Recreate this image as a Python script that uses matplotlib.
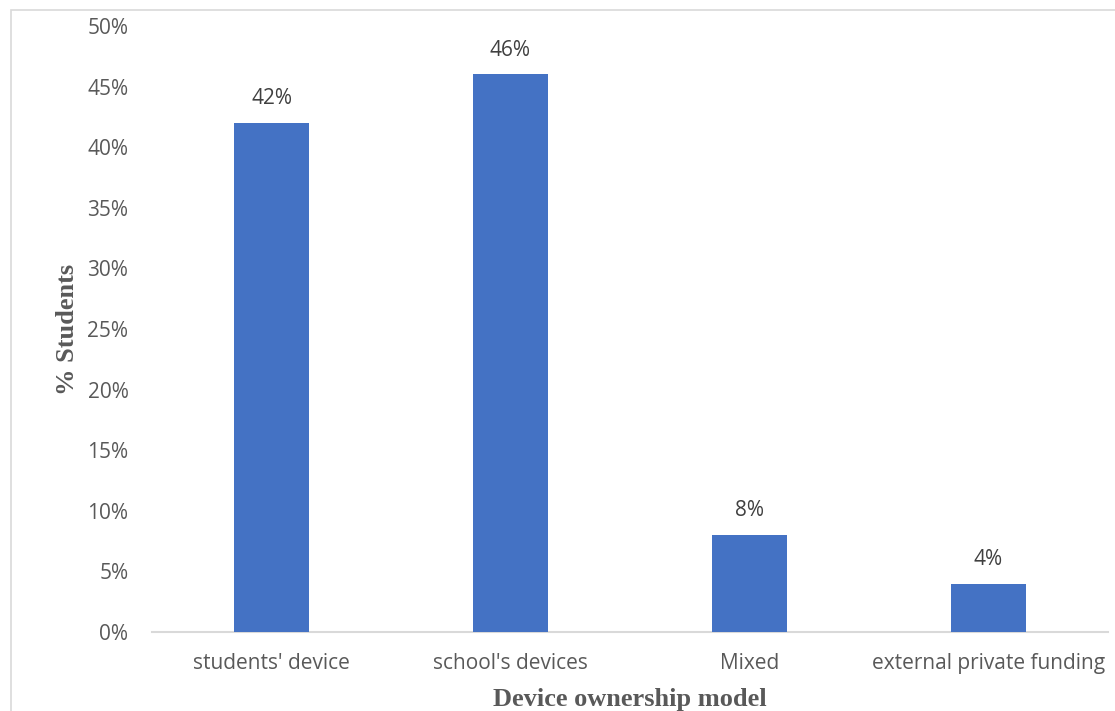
import matplotlib
matplotlib.use("Agg")
import matplotlib.pyplot as plt
from matplotlib.patches import Rectangle

categories = ["students' device", "school's devices", "Mixed", "external private funding"]
values = [42, 46, 8, 4]
yticks = [0, 5, 10, 15, 20, 25, 30, 35, 40, 45, 50]
ytick_labels = [f"{v}%" for v in yticks]

W, H = 1115, 711
fig = plt.figure(figsize=(W / 100, H / 100), dpi=100)
ax = fig.add_axes([152 / W, (H - 632) / H, (1108 - 152) / W, (632 - 26) / H])

x = list(range(len(categories)))
ax.bar(x, values, width=0.314, color="#4472C4", zorder=3)
for xi, v in zip(x, values):
    ax.annotate(f"{v}%", (xi, v), xytext=(0, 10), textcoords="offset points",
                ha="center", va="bottom", fontsize=15, color="#404040",
                family="Open Sans")

ax.set_xlim(-0.5, 3.5)
ax.set_ylim(0, 50)
ax.set_yticks(yticks)
ax.set_yticklabels(ytick_labels)
ax.set_xticks(x)
ax.set_xticklabels(categories)
ax.tick_params(axis="y", length=0, pad=17, labelsize=15, labelcolor="#595959")
ax.tick_params(axis="x", length=0, pad=15, labelsize=15, labelcolor="#595959")
for lab in ax.get_xticklabels() + ax.get_yticklabels():
    lab.set_family("Open Sans")

for s in ["top", "right", "left"]:
    ax.spines[s].set_visible(False)
ax.spines["bottom"].set_color("#D9D9D9")
ax.spines["bottom"].set_linewidth(1.5)

ax.set_ylabel("% Students", family="Liberation Serif", fontweight="bold",
              fontsize=19, color="#595959", labelpad=6)
ax.set_xlabel("Device ownership model", family="Liberation Serif", fontweight="bold",
              fontsize=19, color="#595959", labelpad=10)

fig.patches.append(Rectangle((11 / W, -0.1), 1.2, (H - 10) / H + 0.1,
                             transform=fig.transFigure, fill=False,
                             edgecolor="#D9D9D9", linewidth=1.2))

fig.savefig("out.png", dpi=100)
